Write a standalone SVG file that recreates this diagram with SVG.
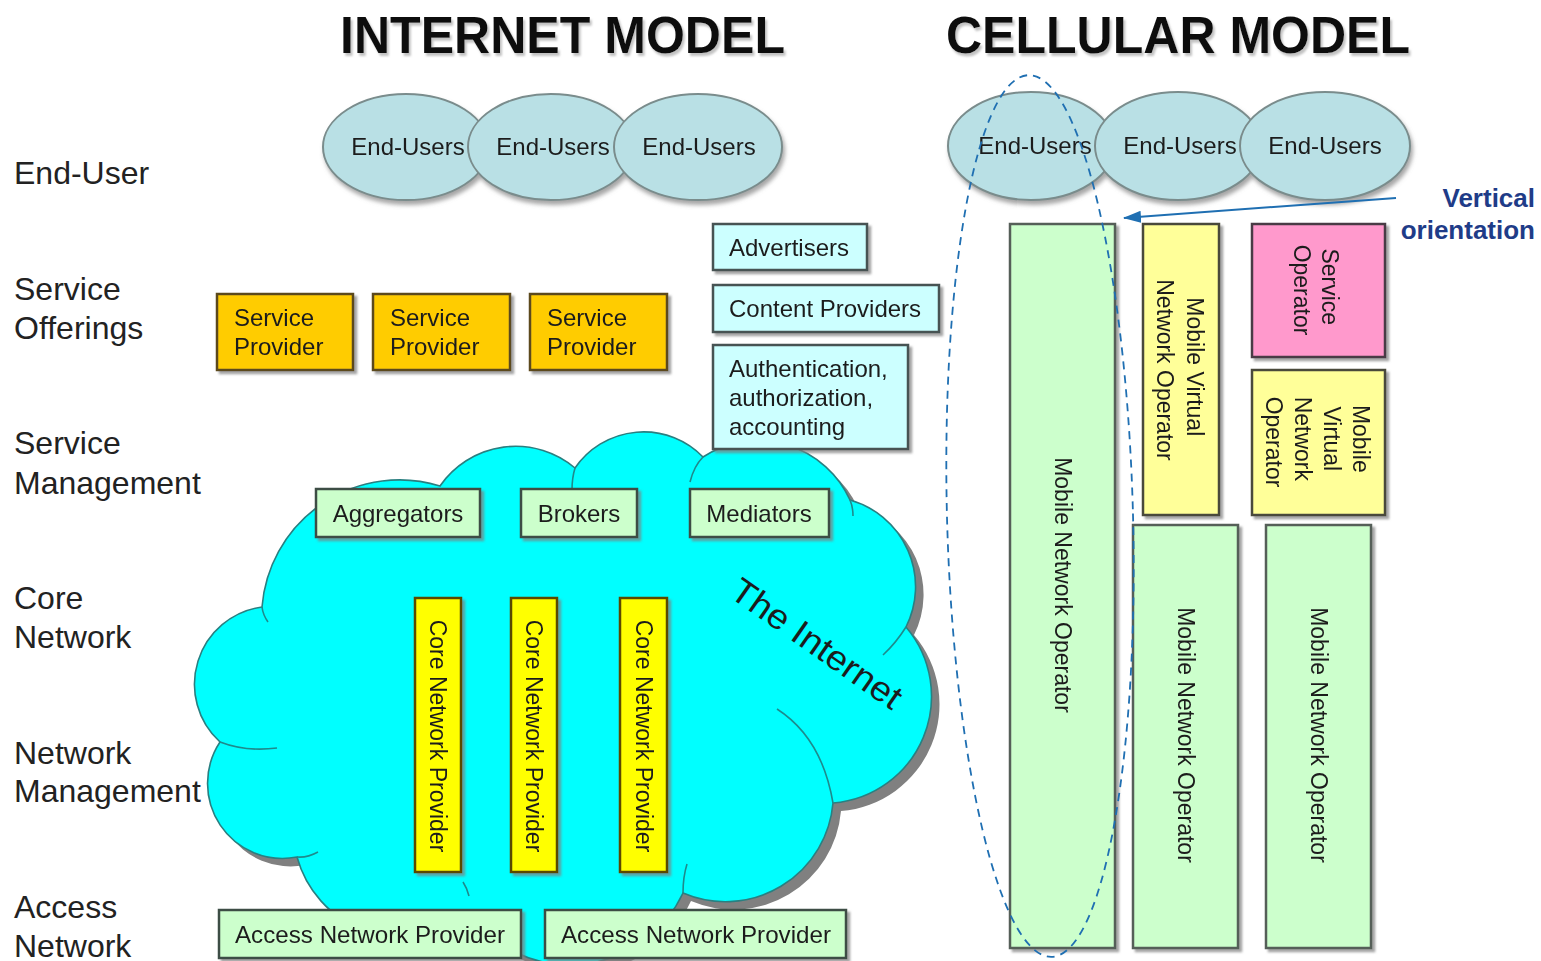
<svg xmlns="http://www.w3.org/2000/svg" width="1541" height="961" viewBox="0 0 1541 961">
  <style>
    text { font-family: "Liberation Sans", Arial, sans-serif; fill: #1c1c1c; }
    .title { font-size: 52px; font-weight: bold; fill: #111; }
    .layer { font-size: 32px; fill: #222; }
    .lbl { font-size: 24px; }
    .vlbl { font-size: 23px; }
    .eu { fill: #b9e0e5; stroke: #7a8c8c; stroke-width: 2; }
    .sp { fill: #ffcc00; stroke: #5c4a1e; stroke-width: 2.5; }
    .lc { fill: #ccffff; stroke: #465252; stroke-width: 2.5; }
    .lg { fill: #ccffcc; stroke: #3d4d45; stroke-width: 2.5; }
    .cnp { fill: #ffff00; stroke: #5a4a00; stroke-width: 2.5; }
    .mvno { fill: #ffff99; stroke: #4a4a3a; stroke-width: 2.5; }
    .so { fill: #ff99cc; stroke: #4a3a44; stroke-width: 2.5; }
    .mno { fill: #ccffcc; stroke: #555f58; stroke-width: 2.5; }
    .inner { fill: none; stroke: #1e8a8c; stroke-width: 1.6; }
    .note { font-size: 26px; font-weight: bold; fill: #1f3c88; }
  </style>
  <defs>
    <filter id="shadow" x="-10%" y="-10%" width="130%" height="130%">
      <feDropShadow dx="3" dy="3" stdDeviation="1" flood-color="#808080" flood-opacity="0.7"/>
    </filter>
    <filter id="softShadow" x="-10%" y="-10%" width="130%" height="130%">
      <feDropShadow dx="2" dy="4" stdDeviation="2" flood-color="#909090" flood-opacity="0.8"/>
    </filter>
    <filter id="titleShadow" x="-5%" y="-20%" width="110%" height="150%">
      <feDropShadow dx="2" dy="3" stdDeviation="1" flood-color="#9a9a9a" flood-opacity="0.6"/>
    </filter>
    <marker id="arrow" viewBox="0 0 18 12" refX="17" refY="6" markerWidth="18" markerHeight="12" markerUnits="userSpaceOnUse" orient="auto">
      <path d="M0,0 L18,6 L0,12 Z" fill="#1f6fb2"/>
    </marker>
    <path id="cloudShape" d="M220,742 A78,78 0 0 1 262,607 A138,138 0 0 1 440,486 A92,92 0 0 1 575,468 A83,83 0 0 1 703,457 A101,101 0 0 1 850,500 A90,90 0 0 1 906,627 A107,107 0 0 1 833,803 A108,108 0 0 1 683,893 A125,125 0 0 1 470,915 A110,110 0 0 1 297,857 A75,75 0 0 1 220,742 Z"/>
  </defs>

  <rect width="1541" height="961" fill="#ffffff"/>

  <!-- headings -->
  <g id="titles" filter="url(#titleShadow)">
    <text class="title" x="340" y="53" textLength="445" lengthAdjust="spacingAndGlyphs">INTERNET MODEL</text>
    <text class="title" x="946" y="53" textLength="464" lengthAdjust="spacingAndGlyphs">CELLULAR MODEL</text>
  </g>

  <!-- layer names on the left -->
  <g id="layers">
    <text class="layer" x="14" y="184">End-User</text>
    <text class="layer" x="14" y="300">Service</text>
    <text class="layer" x="14" y="339">Offerings</text>
    <text class="layer" x="14" y="454">Service</text>
    <text class="layer" x="14" y="494">Management</text>
    <text class="layer" x="14" y="609">Core</text>
    <text class="layer" x="14" y="648">Network</text>
    <text class="layer" x="14" y="764">Network</text>
    <text class="layer" x="14" y="802">Management</text>
    <text class="layer" x="14" y="918">Access</text>
    <text class="layer" x="14" y="957">Network</text>
  </g>

  <!-- the Internet cloud -->
  <g id="internet-cloud">
    <use href="#cloudShape" transform="translate(8,8)" fill="#808080"/>
    <use href="#cloudShape" fill="#00ffff" stroke="#2a7f80" stroke-width="1.6"/>
    <path class="inner" d="M220,742 Q246,752 277,748"/>
    <path class="inner" d="M262,607 Q263,615 268,622"/>
    <path class="inner" d="M297,857 Q307,858 318,852"/>
    <path class="inner" d="M575,468 Q572,478 572,490"/>
    <path class="inner" d="M703,457 Q694,466 690,482"/>
    <path class="inner" d="M850,500 Q853,507 853,516"/>
    <path class="inner" d="M906,627 Q896,643 883,655"/>
    <path class="inner" d="M777,709 Q822,738 833,803"/>
    <path class="inner" d="M683,893 Q683,877 687,864"/>
    <path class="inner" d="M463,882 Q467,888 469,896"/>
    <text transform="translate(728,596) rotate(35)" font-size="35" textLength="200" lengthAdjust="spacingAndGlyphs">The Internet</text>
  </g>

  <!-- Internet model: end users -->
  <g id="inet-users" filter="url(#softShadow)">
    <g id="inet-eu1">
      <ellipse class="eu" cx="406" cy="147" rx="83" ry="53"/>
      <text class="lbl" x="408" y="155" text-anchor="middle">End-Users</text>
    </g>
    <g id="inet-eu2">
      <ellipse class="eu" cx="551" cy="147" rx="83" ry="53"/>
      <text class="lbl" x="553" y="155" text-anchor="middle">End-Users</text>
    </g>
    <g id="inet-eu3">
      <ellipse class="eu" cx="698" cy="147" rx="84" ry="53"/>
      <text class="lbl" x="699" y="155" text-anchor="middle">End-Users</text>
    </g>
  </g>

  <!-- Internet model: service offerings -->
  <g id="sp1" filter="url(#shadow)">
    <rect class="sp" x="217" y="294" width="136" height="76"/>
    <text class="lbl" x="234" y="326">Service</text>
    <text class="lbl" x="234" y="355">Provider</text>
  </g>
  <g id="sp2" filter="url(#shadow)">
    <rect class="sp" x="373" y="294" width="137" height="76"/>
    <text class="lbl" x="390" y="326">Service</text>
    <text class="lbl" x="390" y="355">Provider</text>
  </g>
  <g id="sp3" filter="url(#shadow)">
    <rect class="sp" x="530" y="294" width="137" height="76"/>
    <text class="lbl" x="547" y="326">Service</text>
    <text class="lbl" x="547" y="355">Provider</text>
  </g>
  <g id="advertisers" filter="url(#shadow)">
    <rect class="lc" x="713" y="224" width="154" height="46"/>
    <text class="lbl" x="729" y="256">Advertisers</text>
  </g>
  <g id="content-providers" filter="url(#shadow)">
    <rect class="lc" x="713" y="285" width="226" height="47"/>
    <text class="lbl" x="729" y="317">Content Providers</text>
  </g>
  <g id="aaa" filter="url(#shadow)">
    <rect class="lc" x="713" y="345" width="195" height="104"/>
    <text class="lbl" x="729" y="377">Authentication,</text>
    <text class="lbl" x="729" y="406">authorization,</text>
    <text class="lbl" x="729" y="435">accounting</text>
  </g>

  <!-- Internet model: service management -->
  <g id="aggregators" filter="url(#shadow)">
    <rect class="lg" x="316" y="489" width="164" height="48"/>
    <text class="lbl" x="398" y="522" text-anchor="middle">Aggregators</text>
  </g>
  <g id="brokers" filter="url(#shadow)">
    <rect class="lg" x="521" y="489" width="116" height="48"/>
    <text class="lbl" x="579" y="522" text-anchor="middle">Brokers</text>
  </g>
  <g id="mediators" filter="url(#shadow)">
    <rect class="lg" x="690" y="489" width="139" height="48"/>
    <text class="lbl" x="759" y="522" text-anchor="middle">Mediators</text>
  </g>

  <!-- Internet model: core network providers -->
  <g id="cnp1" filter="url(#shadow)">
    <rect class="cnp" x="415" y="598" width="46" height="274"/>
    <text class="vlbl" transform="translate(438,736) rotate(90)" text-anchor="middle" y="8">Core Network Provider</text>
  </g>
  <g id="cnp2" filter="url(#shadow)">
    <rect class="cnp" x="511" y="598" width="46" height="274"/>
    <text class="vlbl" transform="translate(534,736) rotate(90)" text-anchor="middle" y="8">Core Network Provider</text>
  </g>
  <g id="cnp3" filter="url(#shadow)">
    <rect class="cnp" x="620" y="598" width="47" height="274"/>
    <text class="vlbl" transform="translate(643.5,736) rotate(90)" text-anchor="middle" y="8">Core Network Provider</text>
  </g>

  <!-- Internet model: access network providers -->
  <g id="anp1" filter="url(#shadow)">
    <rect class="lg" x="219" y="910" width="302" height="48"/>
    <text class="lbl" x="370" y="943" text-anchor="middle" textLength="270" lengthAdjust="spacingAndGlyphs">Access Network Provider</text>
  </g>
  <g id="anp2" filter="url(#shadow)">
    <rect class="lg" x="545" y="910" width="301" height="48"/>
    <text class="lbl" x="696" y="943" text-anchor="middle" textLength="270" lengthAdjust="spacingAndGlyphs">Access Network Provider</text>
  </g>

  <!-- Cellular model: end users -->
  <g id="cell-users" filter="url(#softShadow)">
    <g id="cell-eu1">
      <ellipse class="eu" cx="1031" cy="146" rx="83" ry="54"/>
      <text class="lbl" x="1035" y="154" text-anchor="middle">End-Users</text>
    </g>
    <g id="cell-eu2">
      <ellipse class="eu" cx="1178" cy="146" rx="83" ry="54"/>
      <text class="lbl" x="1180" y="154" text-anchor="middle">End-Users</text>
    </g>
    <g id="cell-eu3">
      <ellipse class="eu" cx="1325" cy="146" rx="85" ry="54"/>
      <text class="lbl" x="1325" y="154" text-anchor="middle">End-Users</text>
    </g>
  </g>

  <!-- Cellular model: operators -->
  <g id="mno1" filter="url(#shadow)">
    <rect class="mno" x="1010" y="224" width="105" height="724"/>
    <text class="vlbl" transform="translate(1062.5,585) rotate(90)" text-anchor="middle" y="8">Mobile Network Operator</text>
  </g>
  <g id="mvno1" filter="url(#shadow)">
    <rect class="mvno" x="1143" y="224" width="76" height="291"/>
    <text class="vlbl" transform="translate(1180,370) rotate(90)" text-anchor="middle">
      <tspan x="0" y="-7">Mobile Virtual</tspan>
      <tspan x="0" y="23">Network Operator</tspan>
    </text>
  </g>
  <g id="service-operator" filter="url(#shadow)">
    <rect class="so" x="1252" y="224" width="133" height="133"/>
    <text class="vlbl" transform="translate(1316,290) rotate(90)" text-anchor="middle">
      <tspan x="0" y="-6">Service</tspan>
      <tspan x="0" y="22">Operator</tspan>
    </text>
  </g>
  <g id="mvno2" filter="url(#shadow)">
    <rect class="mvno" x="1252" y="370" width="133" height="145"/>
    <text class="vlbl" transform="translate(1317,442) rotate(90)" text-anchor="middle">
      <tspan x="0" y="-35.5">Mobile</tspan>
      <tspan x="0" y="-6.5">Virtual</tspan>
      <tspan x="0" y="22.5">Network</tspan>
      <tspan x="0" y="51.5">Operator</tspan>
    </text>
  </g>
  <g id="mno2" filter="url(#shadow)">
    <rect class="mno" x="1133" y="525" width="105" height="423"/>
    <text class="vlbl" transform="translate(1185.5,735) rotate(90)" text-anchor="middle" y="8">Mobile Network Operator</text>
  </g>
  <g id="mno3" filter="url(#shadow)">
    <rect class="mno" x="1266" y="525" width="105" height="423"/>
    <text class="vlbl" transform="translate(1318.5,735) rotate(90)" text-anchor="middle" y="8">Mobile Network Operator</text>
  </g>

  <!-- vertical orientation callout -->
  <g id="connectors">
    <ellipse cx="1040" cy="516" rx="93" ry="441" transform="rotate(-1.5 1040 516)" fill="none" stroke="#1f6fb2" stroke-width="1.8" stroke-dasharray="8 6"/>
    <line x1="1396" y1="198" x2="1124" y2="218" stroke="#1f6fb2" stroke-width="2" marker-end="url(#arrow)"/>
  </g>
  <g id="vertical-note">
    <text class="note" x="1535" y="207" text-anchor="end">Vertical</text>
    <text class="note" x="1535" y="239" text-anchor="end">orientation</text>
  </g>
</svg>
